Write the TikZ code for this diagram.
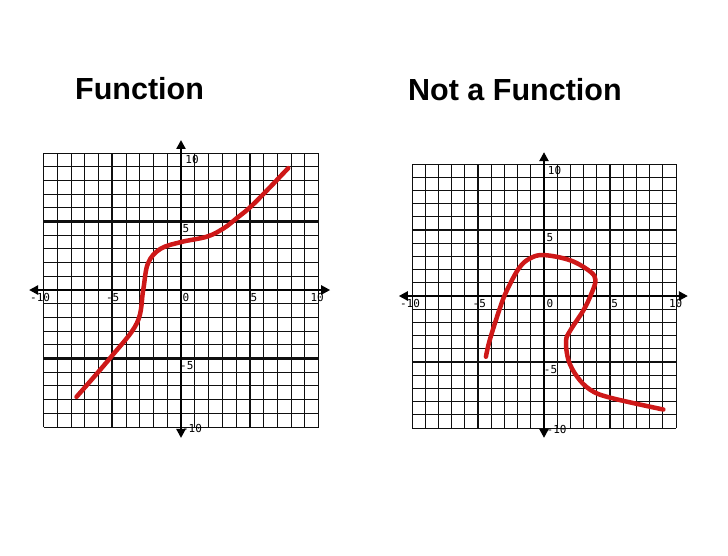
\documentclass[tikz,border=0pt]{standalone}
\usepackage{fontspec}
\usepackage{tikz}
\usetikzlibrary{arrows.meta, positioning}
\newfontfamily\headingFont{Liberation Sans}
\newfontfamily\tickFont{DejaVu Sans Mono}
\definecolor{curveRed}{RGB}{206, 24, 24}
\definecolor{gridBlack}{RGB}{15, 15, 15}

\begin{document}
\begin{tikzpicture}[
    x=1pt, y=1pt,
    heading/.style={
        font=\headingFont\bfseries\fontsize{30.5}{36}\selectfont,
        anchor=base west,
        inner sep=0pt
    },
    tick/.style={
        font=\tickFont\fontsize{11}{12}\selectfont,
        inner sep=0pt,
        text=black
    },
    gridline/.style={
        line width=1pt,
        gridBlack
    },
    fiveline/.style={
        line width=2.4pt,
        gridBlack
    },
    axis/.style={
        line width=2.3pt,
        black,
        {Triangle[length=9pt,width=9pt]}-{Triangle[length=9pt,width=9pt]}
    },
    curve/.style={
        line width=4.5pt,
        curveRed,
        line cap=round,
        line join=round
    }
]

\useasboundingbox[fill=white] (0,0) rectangle (728,-555);

% Titles
\node[heading] (funcTitle) at (75,-99) {Function};
\node[heading] (notFuncTitle) at (408,-100) {Not a Function};

% Left graph: a function
\begin{scope}[shift={(181,-290)}, x=13.75pt, y=13.7pt]
\foreach \i in {-10,...,10} {
    \draw[gridline] (\i,-10) -- (\i,10);
    \draw[gridline] (-10,\i) -- (10,\i);
}
\foreach \i in {-5,5} {
    \draw[fiveline] (\i,-10) -- (\i,10);
    \draw[fiveline] (-10,\i) -- (10,\i);
}

\coordinate (leftXMin) at (-11.05,0);
\coordinate (leftXMax) at (10.85,0);
\coordinate (leftYMin) at (0,-10.8);
\coordinate (leftYMax) at (0,10.95);
\draw[axis] (leftXMin) -- (leftXMax);
\draw[axis] (leftYMin) -- (leftYMax);

\node[tick] (leftXm10) at (-10.25,-0.55) {-10};
\node[tick] (leftXm5) at (-4.97,-0.55) {-5};
\node[tick] (leftX0) at (0.35,-0.55) {0};
\node[tick] (leftX5) at (5.3,-0.55) {5};
\node[tick] (leftX10) at (9.9,-0.55) {10};
\node[tick] (leftY10) at (0.8,9.55) {10};
\node[tick] (leftY5) at (0.36,4.5) {5};
\node[tick] (leftYm5) at (0.42,-5.5) {-5};
\node[tick] (leftYm10) at (0.8,-10.1) {-10};

\draw[curve] plot[smooth, tension=0.6] coordinates {
    (-7.6,-7.8) (-5.1,-4.9) (-3.2,-2.4) (-2.75,0) (-2.4,1.95)
    (-1.5,3.0) (0,3.5) (1.9,3.9) (3.1,4.5) (4.0,5.2) (5.3,6.3) (7.8,8.9)};
\end{scope}

% Right graph: not a function
\begin{scope}[shift={(544,-296)}, x=13.2pt, y=13.2pt]
\foreach \i in {-10,...,10} {
    \draw[gridline] (\i,-10) -- (\i,10);
    \draw[gridline] (-10,\i) -- (10,\i);
}
\foreach \i in {-5,5} {
    \draw[fiveline] (\i,-10) -- (\i,10);
    \draw[fiveline] (-10,\i) -- (10,\i);
}

\coordinate (rightXMin) at (-11,0);
\coordinate (rightXMax) at (10.9,0);
\coordinate (rightYMin) at (0,-10.75);
\coordinate (rightYMax) at (0,10.9);
\draw[axis] (rightXMin) -- (rightXMax);
\draw[axis] (rightYMin) -- (rightYMax);

\node[tick] (rightXm10) at (-10.15,-0.55) {-10};
\node[tick] (rightXm5) at (-4.9,-0.55) {-5};
\node[tick] (rightX0) at (0.45,-0.55) {0};
\node[tick] (rightX5) at (5.35,-0.55) {5};
\node[tick] (rightX10) at (9.98,-0.55) {10};
\node[tick] (rightY10) at (0.8,9.5) {10};
\node[tick] (rightY5) at (0.44,4.45) {5};
\node[tick] (rightYm5) at (0.5,-5.55) {-5};
\node[tick] (rightYm10) at (0.96,-10.1) {-10};

\draw[curve] plot[smooth, tension=0.6] coordinates {
    (-4.4,-4.6) (-4.1,-3.3) (-3.3,-0.8) (-2.8,0.45) (-1.9,2.1)
    (-1.06,2.85) (0,3.1) (2.0,2.7) (3.5,1.85) (3.9,1.2) (3.6,0.2)
    (3.0,-1.06) (2.0,-2.6) (1.67,-3.4) (1.85,-4.85) (2.5,-6.1)
    (3.5,-7.1) (5.0,-7.7) (9.04,-8.6)};
\end{scope}

\end{tikzpicture}
\end{document}
